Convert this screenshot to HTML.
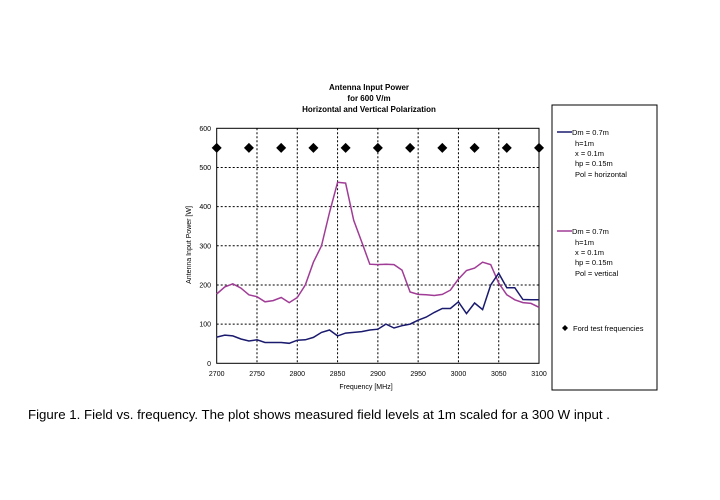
<!DOCTYPE html>
<html><head><meta charset="utf-8"><style>
html,body{margin:0;padding:0;background:#fff;}
svg{display:block;font-family:"Liberation Sans",sans-serif;}
</style></head><body>
<svg id="s" width="720" height="500" viewBox="0 0 720 500" xmlns="http://www.w3.org/2000/svg">
<rect width="720" height="500" fill="#fff"/>
<g font-weight="bold" font-size="8" text-anchor="middle" fill="#000">
<text x="369" y="90">Antenna Input Power</text>
<text x="369" y="101">for 600 V/m</text>
<text x="369" y="112">Horizontal and Vertical Polarization</text>
</g>
<g id="grid" stroke="#000" stroke-width="1" stroke-dasharray="2,2"></g>
<rect x="216.7" y="128.3" width="322.3" height="235" fill="none" stroke="#000" stroke-width="1"/>
<g id="ticks" font-size="7" fill="#000"></g>
<text x="366" y="389" font-size="7" text-anchor="middle">Frequency [MHz]</text>
<text transform="translate(191,245) rotate(-90)" font-size="7" text-anchor="middle">Antenna Input Power [W]</text>
<polyline id="v" fill="none" stroke="#a03c96" stroke-width="1.5"/>
<polyline id="h" fill="none" stroke="#1a1a6e" stroke-width="1.5"/>
<g id="d" fill="#000"></g>
<rect x="552" y="105" width="105" height="285" fill="none" stroke="#000" stroke-width="1"/>
<g font-size="7.5" fill="#000">
<line x1="557" y1="132" x2="572" y2="132" stroke="#1a1a6e" stroke-width="1.5"/>
<text x="572" y="135">Dm = 0.7m</text><text x="575" y="146">h=1m</text><text x="575" y="156">x = 0.1m</text><text x="575" y="166">hp = 0.15m</text><text x="575" y="177">Pol = horizontal</text>
<line x1="557" y1="231" x2="572" y2="231" stroke="#a03c96" stroke-width="1.5"/>
<text x="572" y="234">Dm = 0.7m</text><text x="575" y="245">h=1m</text><text x="575" y="255">x = 0.1m</text><text x="575" y="265">hp = 0.15m</text><text x="575" y="276">Pol = vertical</text>
<path d="M565 325 L568 328 L565 331 L562 328Z"/>
<text x="573" y="331">Ford test frequencies</text>
</g>
<text x="28" y="419" font-size="13" textLength="582" lengthAdjust="spacingAndGlyphs">Figure 1.  Field vs. frequency.  The plot shows measured field levels at  1m scaled for a 300 W input .</text>
</svg>
<script>
var X=f=>216.7+(f-2700)*0.8058, Y=v=>363.3-v*0.3917;
var V=[177,195,203,192,175,170,157,160,168,155,168,200,258,300,385,462,460,365,310,253,252,253,252,238,182,176,175,173,176,187,215,237,243,258,252,205,175,162,155,153,143];
var H=[67,72,70,62,57,60,53,53,53,51,59,60,66,79,85,70,77,79,81,85,87,100,90,96,100,110,118,130,140,140,157,127,154,137,200,230,193,193,163,162,162];
function pts(a){return a.map((v,i)=>X(2700+10*i).toFixed(1)+","+Y(v).toFixed(1)).join(" ");}
document.getElementById("v").setAttribute("points",pts(V));
document.getElementById("h").setAttribute("points",pts(H));
var ns="http://www.w3.org/2000/svg",g=document.getElementById("grid"),t=document.getElementById("ticks"),d=document.getElementById("d");
function el(p,tag,a,txt){var e=document.createElementNS(ns,tag);for(var k in a)e.setAttribute(k,a[k]);if(txt)e.textContent=txt;p.appendChild(e);}
for(var v=100;v<600;v+=100)el(g,"line",{x1:216.7,x2:539,y1:Y(v),y2:Y(v)});
for(var f=2750;f<3100;f+=50)el(g,"line",{y1:128.3,y2:363.3,x1:X(f),x2:X(f)});
for(var v=0;v<=600;v+=100)el(t,"text",{x:211,y:Y(v)+2.5,"text-anchor":"end"},""+v);
for(var f=2700;f<=3100;f+=50)el(t,"text",{x:X(f),y:376,"text-anchor":"middle"},""+f);
for(var f=2700;f<=3100;f+=40){var x=X(f),y=Y(550);el(d,"path",{d:"M"+x+" "+(y-5)+" L"+(x+5)+" "+y+" L"+x+" "+(y+5)+" L"+(x-5)+" "+y+"Z"});}
</script>
</body></html>
